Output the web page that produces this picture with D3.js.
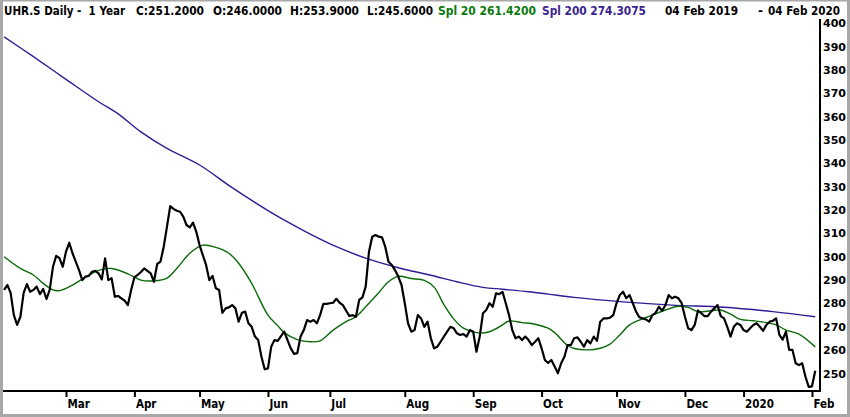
<!DOCTYPE html>
<html>
<head>
<meta charset="utf-8">
<script src="https://cdn.jsdelivr.net/npm/d3@7"></script>
<style>
  html, body { margin: 0; padding: 0; background: #fff; }
  svg { display: block; }
  text { font-family: "DejaVu Sans", sans-serif; font-weight: bold; }
  .hdr { white-space: pre; }
</style>
</head>
<body>
<svg id="chart" width="850" height="417"></svg>
<script>
// ---------- DATA ----------
const startDate = "2019-02-04";
const endDate = "2020-02-04";
const holidays = ["2019-04-19","2019-04-22","2019-05-01","2019-05-30","2019-06-10","2019-08-01",
  "2019-12-24","2019-12-25","2019-12-26","2019-12-31","2020-01-01","2020-01-02"];

// daily closes (one per trading day)
const close = [
285.8,287.9,284.5,275,270.8,274.3,284.5,288.3,285,285.8,
287.2,284,286.2,281.9,285.8,295.7,300.4,299.4,295.7,302.2,
306,301.5,297.9,294.3,290,291.5,291.8,293.6,294,292.9,
290.3,299.3,290,290.8,282.9,283.2,282.2,281.2,279.3,285.8,
291.2,292.2,293.5,295,294,292.9,289.3,296.9,297.9,304.3,
312.9,321.7,320.5,319.7,319.3,317.2,313.6,312.6,314.6,310.7,
305,300.7,296.5,290,291.8,286.5,285.8,276,277.9,278.3,
279.3,277.9,272.2,276,276.5,271.5,270,265.8,264.3,257.2,
251.8,252.2,261.5,264.3,264,266,267.9,264.3,260.8,258.4,
258.7,265.8,268.6,272.9,272.2,272.9,271.5,275,279.8,279.8,
280.1,280.3,282,280.3,279.3,276.9,274.6,275,274.3,281.5,
282.6,287.2,302,308.6,309.3,308.6,308.3,304.3,297.9,296.5,
294.3,291.5,287.9,280.1,271.5,267.9,268.6,275,273.6,270,
272.2,265.1,260.8,261.5,263.6,265.8,267.9,270,269.4,267.2,
266.5,266.9,265.8,268.6,267.9,259.3,265.8,275.8,277.2,280.1,
278.6,284.3,284,285,280.1,275,268.6,265.1,265.8,264.3,
265.8,264.3,262.2,263.6,265.1,260.8,255.8,254.5,255.8,253,
250.1,254.4,257.2,262.2,262.2,265.1,265.5,263.6,261.5,264.3,
262.9,265.8,264,272.2,273.6,273.6,273.9,275,280.1,283.6,
285,282.2,283.6,280.1,276.5,274.1,273.6,273.2,272.2,275,
276,278.6,276.9,279.3,283.6,282.2,282.9,282.2,280.1,274.3,
269.4,268.6,270.8,277,275.8,274.6,274.6,276.5,277.9,279.3,
274.6,273.6,270,265.8,270,271.5,270.8,268.6,267.9,269.4,
270.8,271.5,270,268.3,270.8,272.2,272.6,273.6,266.5,264.5,
267.9,260.1,260.1,254.4,253.6,254.4,248.6,244.3,244.5,251.2
];

// Spl 20 (green) read at trading-day indices
const spl20Idx = [0,5,9,12,15,17,21,25,29,33,38,42,46,50,53,57,61,65,69,72,76,81,84,86,90,94,97,101,105,108,111,115,118,121,125,129,132,135,138,141,145,149,153,155,159,163,167,169,173,175,179,183,186,189,192,195,199,203,207,210,213,217,220,223,226,230,234,237,240,244,249];
const spl20 = [300,295,292.2,288.6,285.8,285.5,287.9,291.3,294.2,295,292.7,290,289.7,290.9,295,301.5,305,304,301.5,297.2,288.6,275,270.5,267.5,264.5,263.6,264,268.6,272.2,274.3,278.6,284.6,289.3,291.6,290.7,289.9,287,279.5,273.4,269.4,267.5,267.9,270.8,272.5,271.8,271.1,269.4,267.5,262,260.7,260.1,260.8,262.6,266.5,270.8,272.9,275,277.2,278.8,278.3,276.5,276.9,277.2,275.4,273.2,272.6,271.8,270.8,268.6,266.9,261.4];

// Spl 200 (blue) read at trading-day indices
const spl200Idx = [0,9,19,29,35,42,50,60,70,81,88,94,102,111,121,131,139,147,153,161,167,175,190,205,221,236,249];
const spl200 = [394.2,385.7,376,366.4,361.2,353.5,346.4,339.3,329.6,319.8,314.2,309.7,304.3,299.4,295.3,292.1,289.3,286.9,286.1,285,284,282.6,280.7,279.3,278.4,276.5,274.3];

const yTicks = [250,260,270,280,290,300,310,320,330,340,350,360,370,380,390,400];

const header = [
  {t: "UHR.S Daily -  1 Year", c: "#000", x: 4, w: 121},
  {t: "C:251.2000", c: "#000", x: 136, w: 68},
  {t: "O:246.0000", c: "#000", x: 213, w: 69},
  {t: "H:253.9000", c: "#000", x: 290, w: 69},
  {t: "L:245.6000", c: "#000", x: 367, w: 66},
  {t: "Spl 20 261.4200", c: "#0b7a0b", x: 438, w: 98},
  {t: "Spl 200 274.3075", c: "#3a1f8f", x: 542, w: 104},
  {t: "04 Feb 2019", c: "#000", x: 665, w: 73},
  {t: "-", c: "#000", x: 758, w: 5},
  {t: "04 Feb 2020", c: "#000", x: 768, w: 72}
];

// ---------- BUILD ----------
const parse = d3.utcParse("%Y-%m-%d");
const hol = new Set(holidays);
const dates = d3.utcDay.range(parse(startDate), d3.utcDay.offset(parse(endDate), 1))
  .filter(d => d.getUTCDay() !== 0 && d.getUTCDay() !== 6 && !hol.has(d3.utcFormat("%Y-%m-%d")(d)));

const svg = d3.select("#chart");
const W = 850, H = 417;

const x = d3.scaleLinear().domain([0, dates.length - 1]).range([4.1, 4.1 + (dates.length - 1) * 3.2576]);
const y = d3.scaleLinear().domain([250, 400]).range([373.5, 23.3]);

svg.append("rect").attr("x", 0).attr("y", 0).attr("width", W).attr("height", H).attr("fill", "#fff");

// header text
svg.append("g").selectAll("text").data(header).join("text")
  .attr("class", "hdr")
  .attr("x", d => d.x).attr("y", 14.5)
  .attr("font-size", 11.5)
  .attr("fill", d => d.c)
  .attr("textLength", d => d.w)
  .attr("lengthAdjust", "spacingAndGlyphs")
  .text(d => d.t);

// month ticks: first trading day of each month
const tickIdx = [];
for (let i = 1; i < dates.length; i++) {
  if (dates[i].getUTCMonth() !== dates[i - 1].getUTCMonth()) tickIdx.push(i);
}
const fmtTick = i => dates[i].getUTCMonth() === 0 ? d3.utcFormat("%Y")(dates[i]) : d3.utcFormat("%b")(dates[i]);

// lines
const plot = svg.append("g");
plot.append("path")
  .datum(spl200Idx.map((d, i) => [d, spl200[i]]))
  .attr("fill", "none").attr("stroke", "#2e1d96").attr("stroke-width", 1.4)
  .attr("d", d3.line().x(d => x(d[0])).y(d => y(d[1])).curve(d3.curveCatmullRom));

plot.append("path")
  .datum(spl20Idx.map((d, i) => [d, spl20[i]]))
  .attr("fill", "none").attr("stroke", "#0a6a0a").attr("stroke-width", 1.4)
  .attr("d", d3.line().x(d => x(d[0])).y(d => y(d[1])).curve(d3.curveCatmullRom));

plot.append("path")
  .datum(close)
  .attr("fill", "none").attr("stroke", "#000").attr("stroke-width", 2.2)
  .attr("stroke-linejoin", "round")
  .attr("d", d3.line().x((d, i) => x(i)).y(d => y(d)));

// x axis
const xAxis = svg.append("g").attr("transform", "translate(0,391)")
  .call(d3.axisBottom(x).tickValues(tickIdx).tickFormat(fmtTick).tickSize(6).tickSizeOuter(0));
xAxis.select(".domain").remove();
xAxis.append("line").attr("x1", 3).attr("x2", 821).attr("y1", 0).attr("y2", 0)
  .attr("stroke", "#000").attr("stroke-width", 2);
xAxis.selectAll(".tick line").attr("stroke", "#000").attr("stroke-width", 2);
xAxis.selectAll(".tick text")
  .attr("text-anchor", "start").attr("x", 1).attr("y", 9)
  .attr("font-size", 11.5).attr("font-family", "DejaVu Sans").attr("font-weight", "bold")
  .attr("font-stretch", "condensed").attr("fill", "#000");

// y axis
const yAxis = svg.append("g").attr("transform", "translate(820,0)")
  .call(d3.axisRight(y).tickValues(yTicks).tickFormat(d3.format("d")).tickSize(0).tickPadding(3));
yAxis.select(".domain").remove();
yAxis.append("line").attr("x1", 0).attr("x2", 0).attr("y1", 19).attr("y2", 392)
  .attr("stroke", "#000").attr("stroke-width", 2);
yAxis.selectAll(".tick text")
  .attr("font-size", 11).attr("font-family", "DejaVu Sans").attr("font-weight", "bold").attr("fill", "#000");

// gray outer border
const bc = "#a8a8a8";
svg.append("rect").attr("x", 0).attr("y", 0).attr("width", 3).attr("height", H).attr("fill", bc);
svg.append("rect").attr("x", W - 3).attr("y", 0).attr("width", 3).attr("height", H).attr("fill", bc);
svg.append("rect").attr("x", 0).attr("y", 0).attr("width", W).attr("height", 1.5).attr("fill", bc);
svg.append("rect").attr("x", 0).attr("y", H - 3).attr("width", W).attr("height", 3).attr("fill", bc);
</script>
</body>
</html>
